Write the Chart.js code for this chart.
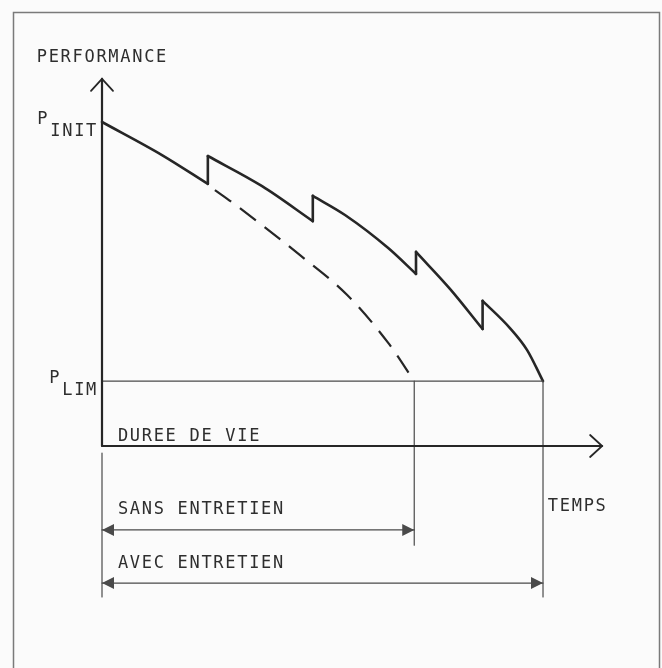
<!DOCTYPE html>
<html>
<head>
<meta charset="utf-8">
<script src="https://cdn.jsdelivr.net/npm/chart.js@4/dist/chart.umd.min.js"></script>
<style>
  html,body{margin:0;padding:0;background:#fbfbfb;}
  #wrap{width:662px;height:668px;position:relative;}
</style>
</head>
<body>
<div id="wrap"><canvas id="c" width="662" height="668"></canvas></div>
<script>
// ---------- data (time t, performance P) ----------
const P_INIT = 100;
const P_LIM = 20;
const T_SANS = 7.08;      // life without maintenance
const T_AVEC = 10;        // life with maintenance
const T_AXIS_END = 11.34;
const P_AXIS_END = 113.3;

// solid curve (with maintenance): one array per tooth
const seg1 = [{x:0,y:100},{x:1.36,y:89.8},{x:2.40,y:80.9}];
const seg2 = [{x:2.40,y:89.5},{x:3.63,y:80.2},{x:4.78,y:69.4}];
const seg3 = [{x:4.78,y:77.2},{x:5.51,y:71.3},{x:6.49,y:61.1},{x:7.12,y:53.1}];
const seg4 = [{x:7.12,y:59.9},{x:7.89,y:48.5},{x:8.63,y:36.1}];
const seg5 = [{x:8.63,y:44.8},{x:9.25,y:36.4},{x:9.64,y:29.6},{x:10.0,y:20.0}];
// maintenance jumps: [time, before, after]
const jumps = [[2.40,80.9,89.5],[4.78,69.4,77.2],[7.12,53.1,59.9],[8.63,36.1,44.8]];
// dashed curve (without maintenance)
const noMaintenance = [{x:2.56,y:79.0},{x:2.97,y:75.0},{x:4.49,y:58.9},{x:5.56,y:46.6},{x:6.49,y:31.8},{x:7.08,y:20.0}];

// dimension lines levels (below the time axis)
const P_SANS_ARROW = -25.9;
const P_AVEC_ARROW = -42.3;

const labels = [
  {text:'PERFORMANCE', x:-1.48, y:118.5},
  {text:'DUREE DE VIE', x:0.36, y:1.5},
  {text:'TEMPS', x:10.11, y:-20.1},
  {text:'SANS ENTRETIEN', x:0.36, y:-21.0},
  {text:'AVEC ENTRETIEN', x:0.36, y:-37.7}
];
const levelLabels = [
  {main:'P', sub:'INIT', y:P_INIT},
  {main:'P', sub:'LIM', y:P_LIM}
];

// ---------- datasets ----------
const DARK = '#262626';
const THIN = '#4a4a4a';
const base = {showLine:true, pointRadius:0, fill:false, borderCapStyle:'round', borderJoinStyle:'round'};
const jumpData = [];
jumps.forEach(j => { jumpData.push({x:j[0],y:j[1]},{x:j[0],y:j[2]},{x:j[0],y:null}); });
const curve = {...base, borderColor:DARK, borderWidth:2.6, cubicInterpolationMode:'monotone'};

const datasets = [
  // axes
  {...base, data:[{x:0,y:0},{x:0,y:P_AXIS_END}], borderColor:DARK, borderWidth:2.2, tension:0, arrowEnd:'open'},
  {...base, data:[{x:0,y:0},{x:T_AXIS_END,y:0}], borderColor:DARK, borderWidth:1.8, tension:0, arrowEnd:'open'},
  // limit line
  {...base, data:[{x:0,y:P_LIM},{x:T_AVEC,y:P_LIM}], borderColor:THIN, borderWidth:1.2, tension:0, borderCapStyle:'butt'},
  // drop lines
  {...base, data:[{x:T_SANS,y:P_LIM},{x:T_SANS,y:-30.6}], borderColor:THIN, borderWidth:1.2, tension:0, borderCapStyle:'butt'},
  {...base, data:[{x:T_AVEC,y:P_LIM},{x:T_AVEC,y:-46.6}], borderColor:THIN, borderWidth:1.2, tension:0, borderCapStyle:'butt'},
  {...base, data:[{x:0,y:-2.2},{x:0,y:-46.6}], borderColor:THIN, borderWidth:1.2, tension:0, borderCapStyle:'butt'},
  // dimension arrows
  {...base, data:[{x:0,y:P_SANS_ARROW},{x:T_SANS,y:P_SANS_ARROW}], borderColor:THIN, borderWidth:1.2, tension:0, arrowStart:'filled', arrowEnd:'filled'},
  {...base, data:[{x:0,y:P_AVEC_ARROW},{x:T_AVEC,y:P_AVEC_ARROW}], borderColor:THIN, borderWidth:1.2, tension:0, arrowStart:'filled', arrowEnd:'filled'},
  // dashed curve
  {...curve, data:noMaintenance, borderWidth:2.2, borderDash:[20,11], borderCapStyle:'butt'},
  // solid curve
  {...curve, data:seg1},
  {...curve, data:seg2},
  {...curve, data:seg3},
  {...curve, data:seg4},
  {...curve, data:seg5},
  {...base, data:jumpData, borderColor:DARK, borderWidth:2.6, tension:0, spanGaps:false}
];

const FONT = '17px "DejaVu Sans Mono", "Liberation Mono", monospace';
const TEXT = '#2e2e2e';

const deco = {
  id:'deco',
  beforeDraw(chart){
    const ctx = chart.ctx;
    ctx.save();
    ctx.fillStyle = '#fbfbfb';
    ctx.fillRect(0,0,chart.width,chart.height);
    ctx.strokeStyle = '#7a7a7a';
    ctx.lineWidth = 1.5;
    ctx.strokeRect(13.5, 12.5, 646, 700);
    ctx.restore();
  },
  afterDatasetsDraw(chart){
    const ctx = chart.ctx;
    const xs = chart.scales.x, ys = chart.scales.y;
    ctx.save();
    chart.data.datasets.forEach((ds,i) => {
      const pts = chart.getDatasetMeta(i).data;
      if (!pts.length) return;
      const head = (tip, from, kind) => {
        const ang = Math.atan2(tip.y-from.y, tip.x-from.x);
        ctx.save();
        ctx.translate(tip.x, tip.y);
        ctx.rotate(ang);
        ctx.strokeStyle = ds.borderColor; ctx.fillStyle = ds.borderColor;
        if (kind === 'filled') {
          ctx.beginPath(); ctx.moveTo(0,0); ctx.lineTo(-12,-6); ctx.lineTo(-12,6); ctx.closePath(); ctx.fill();
        } else {
          ctx.lineWidth = 1.8; ctx.lineJoin='miter'; ctx.lineCap='round';
          ctx.beginPath(); ctx.moveTo(-12,-11); ctx.lineTo(0,0); ctx.lineTo(-12,11); ctx.stroke();
        }
        ctx.restore();
      };
      if (ds.arrowEnd) head(pts[pts.length-1], pts[pts.length-2], ds.arrowEnd);
      if (ds.arrowStart) head(pts[0], pts[1], ds.arrowStart);
    });
    ctx.font = FONT;
    ctx.fillStyle = TEXT;
    ctx.textBaseline = 'alphabetic';
    try { ctx.letterSpacing = '1.7px'; } catch(e) {}
    labels.forEach(l => {
      ctx.textAlign = 'left';
      ctx.fillText(l.text, xs.getPixelForValue(l.x), ys.getPixelForValue(l.y));
    });
    const ax = xs.getPixelForValue(0);
    levelLabels.forEach(l => {
      const py = ys.getPixelForValue(l.y);
      ctx.textAlign = 'right';
      const subW = ctx.measureText(l.sub).width;
      ctx.fillText(l.sub, ax - 4, py + 14);
      ctx.fillText(l.main, ax - 4 - subW - 1, py + 2);
    });
    ctx.restore();
  }
};

new Chart(document.getElementById('c'), {
  type:'scatter',
  data:{datasets},
  options:{
    responsive:false,
    animation:false,
    layout:{padding:0},
    plugins:{legend:{display:false}, tooltip:{enabled:false}},
    scales:{
      x:{type:'linear', display:false, min:-2.313, max:12.698},
      y:{type:'linear', display:false, min:-68.52, max:137.65}
    }
  },
  plugins:[deco]
});
</script>
</body>
</html>
